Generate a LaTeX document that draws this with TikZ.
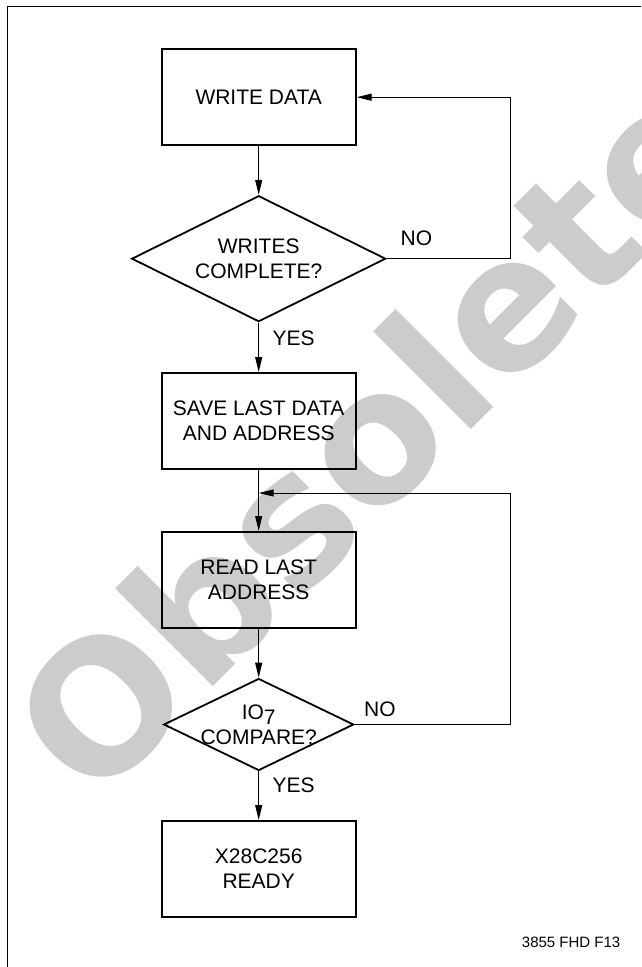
\documentclass[tikz,border=0pt]{standalone}
\usepackage{fontspec}
\setmainfont{Liberation Sans}
\newfontfamily\markfont{DejaVu Sans Bold}
\usetikzlibrary{shapes.geometric,arrows.meta}
\newcommand{\flowSize}[0]{\fontsize{21}{25}\selectfont}
\colorlet{markgray}{black!20}

\begin{document}
\begin{tikzpicture}[x=1pt, y=-1pt]
  \tikzset{
    procbox/.style={draw, line width=2pt, minimum width=194pt, minimum height=96pt,
      inner sep=0pt, align=center, font=\flowSize},
    testbox/.style={draw, diamond, line width=1.8pt, inner sep=0pt},
    flowlbl/.style={anchor=base west, inner sep=0pt, font=\flowSize},
    flow/.style={line width=1pt, -{Triangle[length=15pt,width=7pt]}}
  }
  \useasboundingbox (0,0) rectangle (641,967);
  % stamp behind the chart
  \node[markgray, rotate=45, inner sep=0pt, font=\markfont\fontsize{182}{182}\selectfont]
    (stamp) at (369,436) {Obsolete};
  \draw[line width=1pt] (7,967) -- (7,6) -- (641,6);
  \node[procbox] (write) at (258.7,97.2) {WRITE DATA};
  \node[testbox, minimum width=254pt, minimum height=126pt,
    label={[font=\flowSize, align=center]center:WRITES\\COMPLETE?}] (done) at (258.7,258.7) {};
  \node[procbox] (save) at (258.7,421) {SAVE LAST DATA\\AND ADDRESS};
  \node[procbox] (read) at (258.7,580) {READ LAST\\ADDRESS};
  \node[testbox, minimum width=190pt, minimum height=92pt,
    label={[font=\flowSize, align=center]center:IO\raisebox{-5pt}{7}\\COMPARE?}] (match) at (258.7,724.5) {};
  \node[procbox] (ready) at (258.7,869) {X28C256\\READY};
  \coordinate (backA) at (510.5,97.2);
  \coordinate (backB) at (510.5,493);
  \coordinate (merge) at (258.7,493);
  \draw[flow] (write) -- (done);
  \draw[flow] (done.east) -| (backA) -- (write.east);
  \draw[flow] (done) -- (save);
  \draw[flow] (save) -- (read);
  \draw[flow] (match.east) -| (backB) -- (merge);
  \draw[flow] (read) -- (match);
  \draw[flow] (match) -- (ready);
  \node[flowlbl] (no1) at (400.5,245) {NO};
  \node[flowlbl] (yes1) at (272.5,345) {YES};
  \node[flowlbl] (no2) at (364,716) {NO};
  \node[flowlbl] (yes2) at (272.5,792.7) {YES};
  \node[anchor=base east, inner sep=0pt, font=\fontsize{15}{18}\selectfont]
    (figid) at (620.5,947.3) {3855 FHD F13};
\end{tikzpicture}
\end{document}
